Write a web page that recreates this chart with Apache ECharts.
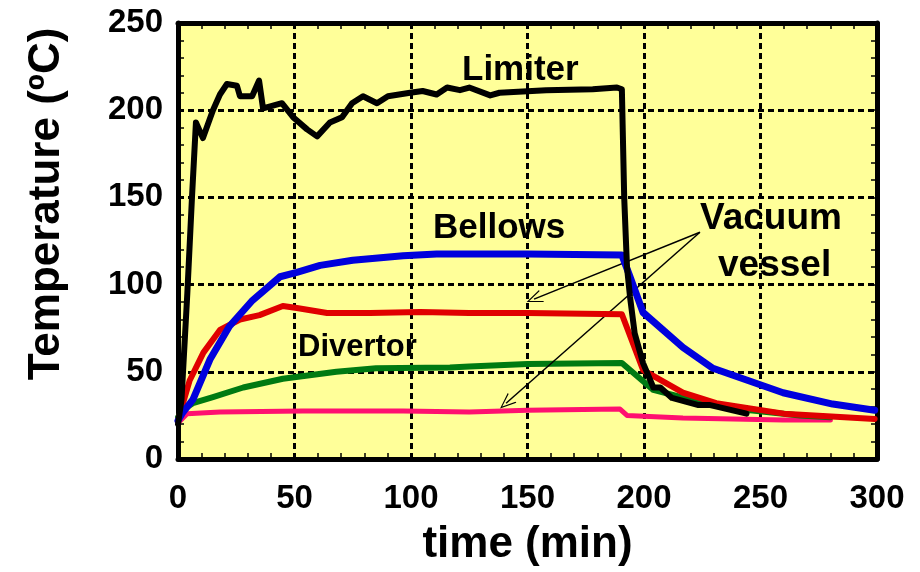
<!DOCTYPE html>
<html>
<head>
<meta charset="utf-8">
<script src="https://cdn.jsdelivr.net/npm/echarts@6/dist/echarts.min.js"></script>
<style>html,body{margin:0;padding:0;background:#fff;}#c{width:920px;height:572px;}</style>
</head>
<body>
<div id="c"></div>
<script>
var xTicks = [0, 50, 100, 150, 200, 250, 300];
var yTicks = [0, 50, 100, 150, 200, 250];

var limiter = [[0,20],[1.5,34],[4,95],[6,150],[7.7,193],[10.7,184],[15,200],[18,209],[21,215],[25.3,214],[26.6,208],[31.8,208],[34.8,217],[36.5,201],[44.6,204],[49.4,196],[55.4,189],[59.7,185],[65.2,193],[70.4,196],[74.7,204],[79.4,208],[85.4,204],[90.1,208],[99.6,210],[105,211],[111,209],[115.5,213],[121,211.5],[125,213],[134,208.5],[138,210],[158,211.5],[178,212],[188.4,213],[190.5,212],[191.5,150],[192.7,110],[194,93],[196,72],[199.6,55],[204,41],[207,41],[212,35],[223,31],[228,31],[244,26]];
var bellows = [[0,22],[1.7,26],[6.4,34],[13.7,57],[22,76],[32,91],[43.8,104.5],[51,107],[61,111],[75,114],[96.6,116.5],[111,117.5],[125,117.5],[150,117.5],[190.5,117],[194,104.5],[199.6,84],[216.7,64],[229.6,52],[259.7,38],[281,31.5],[299,28]];
var vesselUpper = [[0,22],[1.7,30],[5,45],[10.9,61],[18,74],[26.6,80],[35,82.5],[45,87.7],[51,86.6],[64,83.7],[82.4,83.7],[104,84.3],[125,83.7],[150,83.7],[190.5,83],[199.6,51],[216.7,38],[231,32],[260,26],[299,23]];
var divertor = [[0,24],[1.7,28],[6.4,32],[15,35.5],[28,41],[45,46],[68,50],[85,52],[116.7,52.5],[125,53],[150,54.5],[190.5,55],[204,39.6],[224,32.7],[245.5,28],[267,25],[280,24]];
var vesselLower = [[0,20.6],[3.9,26],[18,27],[53.6,27.5],[96.6,27.5],[125,27],[150,28],[189.7,28.6],[192.7,25],[216.7,23.5],[259.7,22.4],[280,22.4]];

var arrowFrom = [224, 130];
var arrowTo1 = [152.8, 91.7];
var arrowTo2 = [140.8, 32];

var chart = echarts.init(document.getElementById('c'), null, {renderer: 'canvas'});
var F = 'Liberation Sans, Arial, sans-serif';
var grid = {left: 178, right: 43, top: 23, bottom: 113, show: true, backgroundColor: '#FFFF99', borderWidth: 0};

function mainAxisCommon() {
  return {
    type: 'value',
    axisLine: {show: true, onZero: false, lineStyle: {color: '#000', width: 5}},
    axisTick: {show: true, inside: true, length: 6, lineStyle: {color: '#000', width: 1.5}},
    minorTick: {show: true, splitNumber: 5, length: 6, lineStyle: {color: '#000', width: 1.5}},
    splitLine: {show: true, lineStyle: {color: '#000', width: 3, type: [6, 4]}}
  };
}

var xMain = Object.assign(mainAxisCommon(), {
  min: 0, max: 300, interval: 50, position: 'bottom',
  axisLabel: {fontSize: 33, fontWeight: 'bold', fontFamily: F, color: '#000', margin: 23},
  name: 'time (min)', nameLocation: 'middle', nameGap: 64,
  nameTextStyle: {fontSize: 44, fontWeight: 'bold', fontFamily: F, color: '#000'}
});
var yMain = Object.assign(mainAxisCommon(), {
  min: 0, max: 250, interval: 50, position: 'left',
  axisLabel: {fontSize: 33, fontWeight: 'bold', fontFamily: F, color: '#000', margin: 15}
});
function frameAxis(pos, max) {
  return {
    type: 'value', min: 0, max: max, interval: 50, position: pos,
    axisLine: {show: true, onZero: false, lineStyle: {color: '#000', width: 5}},
    axisTick: {show: true, inside: true, length: 6, lineStyle: {color: '#000', width: 1.5}},
    minorTick: {show: true, splitNumber: 5, length: 6, lineStyle: {color: '#000', width: 1.5}},
    axisLabel: {show: false}, splitLine: {show: false}
  };
}

function lineSeries(name, data, color, width, z) {
  return {name: name, type: 'line', data: data, showSymbol: false, symbol: 'none',
    lineStyle: {color: color, width: width, join: 'round', cap: 'round'}, z: z, animation: false, clip: true};
}

var openArrow = 'path://M50,0 L100,100 L90,100 L50,18 L10,100 L0,100 Z';

var series = [
  lineSeries('Vacuum vessel (lower)', vesselLower, '#FF1070', 5, 3),
  lineSeries('Divertor', divertor, '#007A12', 6, 4),
  lineSeries('Vacuum vessel (upper)', vesselUpper, '#E00000', 6, 5),
  lineSeries('Bellows', bellows, '#0000DD', 7, 6),
  lineSeries('Limiter', limiter, '#000000', 6, 7),
  {
    type: 'line', data: [], z: 8, animation: false,
    markLine: {
      silent: true, animation: false, symbol: ['none', openArrow], symbolSize: [13, 16],
      itemStyle: {color: '#000'},
      lineStyle: {color: '#000', width: 1.5, type: 'solid'}, label: {show: false},
      data: [[{coord: arrowFrom}, {coord: arrowTo1}], [{coord: arrowFrom}, {coord: arrowTo2}]]
    }
  }
];

var txt = function (text, x, y, size) {
  return {type: 'text', left: x, top: y, z: 100,
    style: {text: text, font: 'bold ' + size + 'px ' + F, fill: '#000'}};
};

chart.setOption({
  animation: false,
  grid: grid,
  xAxis: [xMain, frameAxis('top', 300)],
  yAxis: [yMain, frameAxis('right', 250)],
  series: series,
  graphic: [
    {type: 'text', x: 47, y: 204, rotation: Math.PI / 2, z: 100,
      style: {text: 'Temperature (ºC)', font: 'bold 44px ' + F, fill: '#000', align: 'center', verticalAlign: 'middle'}},
    txt('Limiter', 462, 53, 35),
    txt('Bellows', 433, 211, 35),
    txt('Divertor', 298, 332, 31),
    txt('Vacuum', 700, 200, 37),
    txt('vessel', 718, 247, 37)
  ]
});
</script>
</body>
</html>
